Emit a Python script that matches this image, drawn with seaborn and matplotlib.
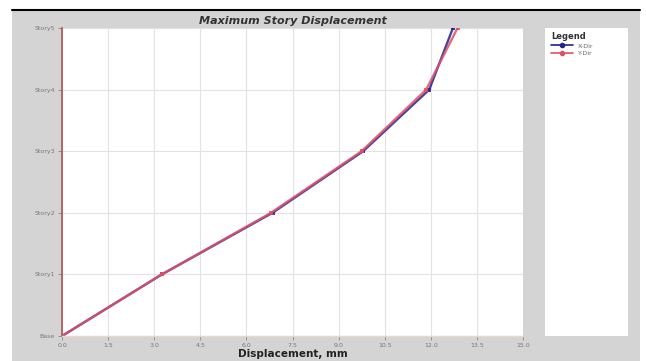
import matplotlib
matplotlib.use("Agg")
import matplotlib.pyplot as plt
from matplotlib.patches import Rectangle
from matplotlib.lines import Line2D
import seaborn as sns
import pandas as pd

stories = ["Base", "Story1", "Story2", "Story3", "Story4", "Story5"]
x_dir = [0.0, 3.25, 6.85, 9.8, 11.95, 12.72]
y_dir = [0.0, 3.25, 6.8, 9.75, 11.85, 12.87]
x_ticks = [0.0, 1.5, 3.0, 4.5, 6.0, 7.5, 9.0, 10.5, 12.0, 13.5, 15.0]

sns.set_theme(style="white")
plt.rcParams['font.family'] = ['DejaVu Sans']

W, H = 646, 361
fig = plt.figure(figsize=(W / 100, H / 100), dpi=100, facecolor="white")

# gray background panel and top black line
fig.add_artist(Rectangle((12 / W, 0), (640 - 12) / W, (H - 10) / H,
                         transform=fig.transFigure, facecolor="#d4d4d4",
                         edgecolor="none", zorder=0))
fig.add_artist(Line2D([12 / W, 640 / W], [(H - 9.5) / H] * 2,
                      transform=fig.transFigure, color="black", lw=1.5, zorder=1))

ax = fig.add_axes([62 / W, (H - 336) / H, (523 - 62) / W, (336 - 28) / H])
ax.set_facecolor("white")

df = pd.DataFrame({
    "Displacement": x_dir + y_dir,
    "Story": list(range(len(stories))) * 2,
    "Dir": ["X-Dir"] * len(stories) + ["Y-Dir"] * len(stories),
})

sns.lineplot(data=df, x="Displacement", y="Story", hue="Dir", sort=False,
             palette={"X-Dir": "#23238a", "Y-Dir": "#e0506a"},
             marker="s", markersize=3.5, markeredgewidth=0, lw=1.7,
             alpha=0.85, legend=False, ax=ax, estimator=None)

ax.set_xlim(0, 15)
ax.set_ylim(0, len(stories) - 1)
ax.set_xticks(x_ticks)
ax.set_xticklabels([f"{t:.1f}" for t in x_ticks], fontsize=4.5, color="#777777")
ax.set_yticks(range(len(stories)))
ax.set_yticklabels(stories, fontsize=4.5, color="#777777")
ax.tick_params(axis="both", length=3, width=0.6, color="#888888", pad=2,
               bottom=True, left=True)
ax.grid(True, color="#e2e2e2", lw=0.8)
for s in ["top", "right"]:
    ax.spines[s].set_visible(False)
ax.spines["bottom"].set_color("#e8d8c8")
ax.spines["bottom"].set_linewidth(1.0)
ax.spines["left"].set_color("#b05050")
ax.spines["left"].set_linewidth(1.2)
ax.set_ylabel("")
ax.set_xlabel("Displacement, mm", fontsize=7.5, fontweight="bold",
              color="#222222", labelpad=1)
ax.set_title("Maximum Story Displacement", fontsize=8, fontweight="bold",
             fontstyle="italic", color="#333333", pad=3)

# legend panel
lax = fig.add_axes([545 / W, (H - 336) / H, (628 - 545) / W, (336 - 28) / H])
lax.set_facecolor("white")
lax.set_xticks([])
lax.set_yticks([])
for s in lax.spines.values():
    s.set_visible(False)
handles = [Line2D([], [], color="#23238a", marker="o", markersize=3, lw=1.2),
           Line2D([], [], color="#e0506a", marker="o", markersize=3, lw=1.2)]
leg = lax.legend(handles, ["X-Dir", "Y-Dir"], loc="upper left",
                 bbox_to_anchor=(0.02, 1.0), frameon=False, fontsize=4.5,
                 title="Legend", title_fontsize=6, handlelength=3.5,
                 labelspacing=0.3, borderaxespad=0.3, alignment="left")
leg.get_title().set_fontweight("bold")
leg.get_title().set_color("#333333")
for t in leg.get_texts():
    t.set_color("#666666")

fig.savefig("out.png", dpi=100, facecolor="white")
